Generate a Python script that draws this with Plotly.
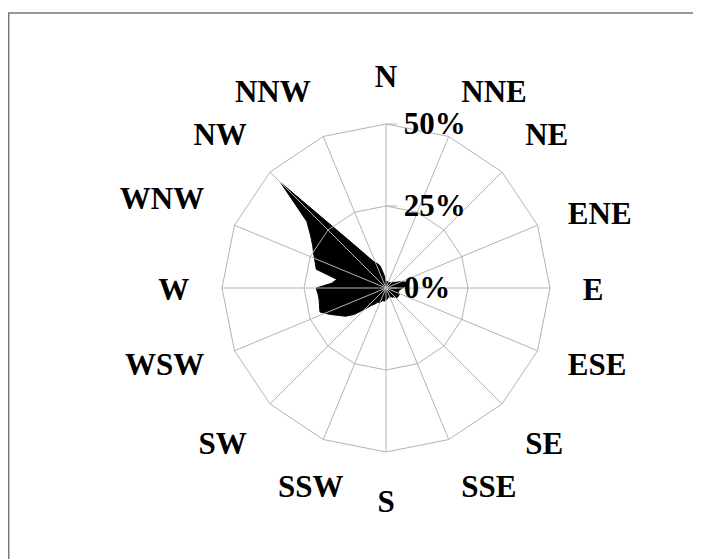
import plotly.graph_objects as go

# Wind directions (compass degrees) and frequency (%)
theta_deg = list(range(0, 360, 5))
freq = [2, 2, 2, 2, 2, 2, 2, 2, 2, 2.5,
        2.5, 3, 3.5, 4.5, 5.5, 6.5, 6.5, 6, 5, 4.5,
        4, 4, 4, 4.5, 4.5, 4.5, 4.5, 4, 3.5, 3.5,
        3, 3, 3, 3, 3, 3.5, 3.5, 4, 4, 4,
        4.5, 5, 5, 6, 7, 9, 12.5, 15, 16.7, 19,
        21.4, 21, 20.7, 20.8, 21.3, 16.6, 15.2, 22, 23, 24.3,
        25.8, 28.1, 31.5, 45.4, 22.4, 14.8, 11, 8.9, 8, 7,
        4.5, 3]

directions = ["N", "NNE", "NE", "ENE", "E", "ESE", "SE", "SSE",
              "S", "SSW", "SW", "WSW", "W", "WNW", "NW", "NNW"]
radial_ticks = [0, 25, 50]
radial_labels = ["0%", "25%", "50%"]

# label placement styles (per direction)
label_pos = ["top center", "top right", "top right", "middle right",
             "middle right", "middle right", "bottom right", "bottom right",
             "bottom center", "bottom center", "bottom left", "middle left",
             "middle left", "top left", "top left", "top left"]

# page has an 8px body margin; figure sized to fill the window
OFF = 8
W, H = 701 - OFF, 559 - OFF
CX, CY = 386 - OFF, 288 - OFF      # chart centre in figure pixels
LABEL_DY = 4                        # label layer nudged down a little
R_PX = 164                          # pixel radius of the 50% ring
R3_PX = 240                         # pixel radius of the label layer
RMAX = 50
R3MAX = RMAX * R3_PX / R_PX
LABEL_R = 60                        # label radius in % units


def dom(r, dy=0):
    cy = CY + dy
    return dict(x=[(CX - r) / W, (CX + r) / W],
                y=[(H - cy - r) / H, (H - cy + r) / H])


FONT = dict(family="Liberation Serif", size=31, color="black", weight="bold")
GRID = "#b4b4b4"

fig = go.Figure()
fig.add_trace(go.Scatterpolar(
    r=freq, theta=theta_deg, mode="lines", fill="toself",
    fillcolor="black", line=dict(color="black", width=1),
    subplot="polar", hoverinfo="skip", showlegend=False))
fig.add_trace(go.Scatterpolar(
    r=[0] * len(directions), theta=directions, mode="lines",
    line=dict(width=0, color="rgba(0,0,0,0)"),
    subplot="polar2", hoverinfo="skip", showlegend=False))
fig.add_trace(go.Scatterpolar(
    r=[LABEL_R] * len(directions),
    theta=[i * 360 / len(directions) for i in range(len(directions))],
    mode="text", text=directions, textposition=label_pos, textfont=FONT,
    cliponaxis=False, subplot="polar3", hoverinfo="skip", showlegend=False))

hidden_ang = dict(type="linear", rotation=90, direction="clockwise",
                  visible=False, showgrid=False)

fig.update_layout(
    width=W, height=H,
    margin=dict(l=0, r=0, t=0, b=0),
    paper_bgcolor="white",
    showlegend=False,
    polar=dict(
        domain=dom(R_PX),
        bgcolor="rgba(0,0,0,0)",
        angularaxis=hidden_ang,
        radialaxis=dict(range=[0, RMAX], visible=False, showgrid=False),
    ),
    polar2=dict(
        domain=dom(R_PX),
        bgcolor="rgba(0,0,0,0)",
        gridshape="linear",
        angularaxis=dict(type="category", categoryarray=directions,
                         rotation=90, direction="clockwise",
                         showgrid=True, gridcolor=GRID, gridwidth=1,
                         showline=True, linecolor=GRID, linewidth=1,
                         ticks="", showticklabels=False),
        radialaxis=dict(range=[0, RMAX], tickvals=radial_ticks, ticktext=radial_labels,
                        angle=90, tickangle=90, side="clockwise",
                        showgrid=True, gridcolor=GRID, gridwidth=1,
                        showline=False, ticks="outside", ticklen=11, tickcolor=GRID,
                        tickfont=FONT),
    ),
    polar3=dict(
        domain=dom(R3_PX, LABEL_DY),
        bgcolor="rgba(0,0,0,0)",
        angularaxis=hidden_ang,
        radialaxis=dict(range=[0, R3MAX], visible=False, showgrid=False),
    ),
    shapes=[dict(type="rect", xref="paper", yref="paper",
                 x0=0.001, x1=1.05, y0=-0.05, y1=1 - (13 - OFF) / H,
                 line=dict(color="#777777", width=1.5), fillcolor="rgba(0,0,0,0)")],
)

fig.write_html("out.html")
